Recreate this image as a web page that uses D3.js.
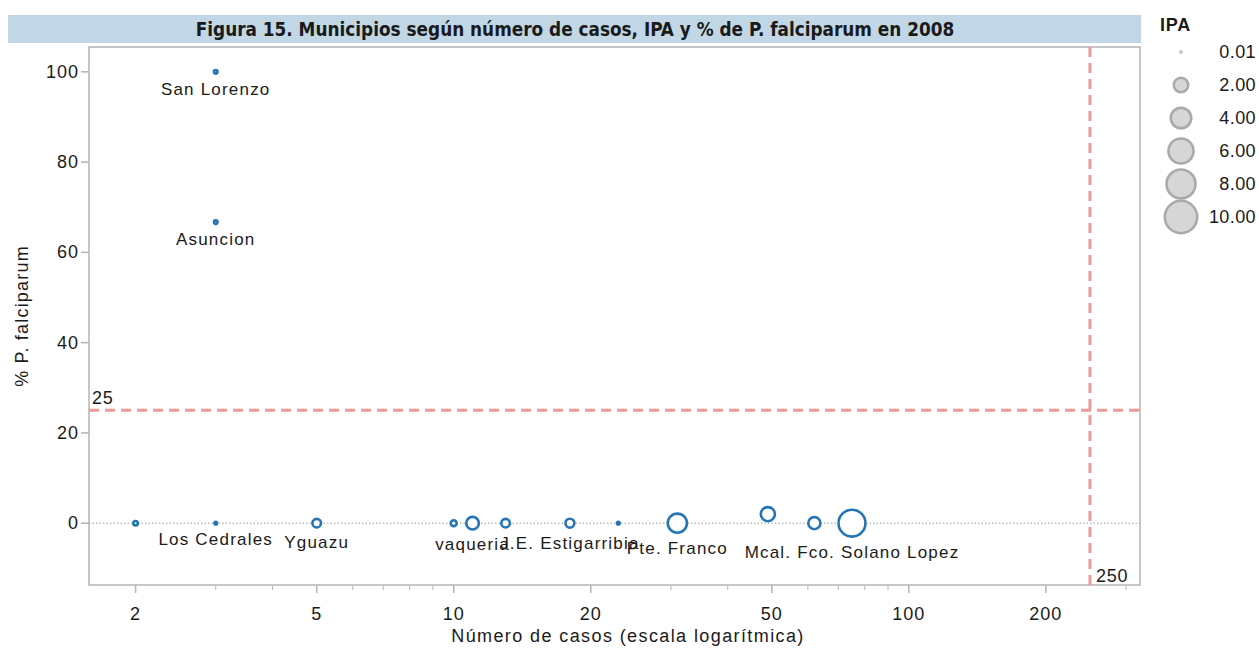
<!DOCTYPE html>
<html>
<head>
<meta charset="utf-8">
<script src="https://cdn.jsdelivr.net/npm/d3@7"></script>
<style>
body { margin: 0; background: #fff; }
svg { display: block; font-family: "Liberation Sans", Arial, sans-serif; }
</style>
</head>
<body>
<div id="chart"></div>
<script>
// municipios 2008: casos, % P. falciparum, IPA
var casos = [3, 3, 2, 3, 5, 10, 11, 13, 18, 23, 31, 49, 62, 75];
var pctFalciparum = [100, 66.7, 0, 0, 0, 0, 0, 0, 0, 0, 0, 2.0, 0, 0];
var ipa = [0.12, 0.12, 0.19, 0.06, 0.7, 0.33, 1.5, 0.7, 0.75, 0.06, 3.5, 1.9, 1.4, 6.9];
var nombres = ["San Lorenzo", "Asuncion", "", "Los Cedrales", "Yguazu", "", "vaqueria", "",
    "J.E. Estigarribia", "", "Pte. Franco", "", "", "Mcal. Fco. Solano Lopez"];

var xTicks = [2, 5, 10, 20, 50, 100, 200];
var xMinor = [3, 4, 6, 7, 8, 9, 30, 40, 60, 70, 80, 90, 300];
var yTicks = [0, 20, 40, 60, 80, 100];
var legendIPA = [0.01, 2, 4, 6, 8, 10];
var refCasos = 250, refPct = 25;

var width = 1259, height = 649;
var pL = 89, pR = 1140, pT = 47, pB = 585;

var svg = d3.select("#chart").append("svg")
    .attr("width", width)
    .attr("height", height)

var x = d3.scaleLog().domain([1.58, 322]).range([pL, pR])
var y = d3.scaleLinear().domain([-13.7, 105.5]).range([pB, pT])
var r = d3.scaleSqrt().domain([0, 10]).range([0, 16.2])

// titulo
svg.append("rect").attr("x", 8).attr("y", 15).attr("width", pR - 8 + 1).attr("height", 28)
    .attr("fill", "#c1d7e5")
svg.append("text").attr("x", 575).attr("y", 36).attr("text-anchor", "middle")
    .style("font-family", "'DejaVu Sans Condensed', 'DejaVu Sans', sans-serif")
    .style("font-weight", "bold").style("font-size", "18.8px").attr("fill", "#1a1a1a")
    .text("Figura 15. Municipios según número de casos, IPA y % de P. falciparum en 2008")

// marco
svg.append("rect").attr("x", pL).attr("y", pT).attr("width", pR - pL).attr("height", pB - pT)
    .attr("fill", "none").attr("stroke", "#b4b4b4").attr("stroke-width", 1.5)

// eje x
var gx = svg.append("g").attr("transform", "translate(0," + pB + ")")
gx.selectAll("line.major").data(xTicks).enter().append("line")
    .attr("x1", d => x(d)).attr("x2", d => x(d)).attr("y1", 0).attr("y2", 8)
    .attr("stroke", "#b4b4b4").attr("stroke-width", 1.5)
gx.selectAll("line.minor").data(xMinor).enter().append("line")
    .attr("x1", d => x(d)).attr("x2", d => x(d)).attr("y1", 0).attr("y2", 5)
    .attr("stroke", "#b4b4b4").attr("stroke-width", 1)
gx.selectAll("text").data(xTicks).enter().append("text")
    .attr("x", d => x(d)).attr("y", 35).attr("text-anchor", "middle")
    .style("font-size", "18px").style("letter-spacing", "1px").attr("fill", "#1a1a1a").text(d => d)
svg.append("text").attr("x", 628).attr("y", 642).attr("text-anchor", "middle")
    .style("font-size", "18px").style("letter-spacing", "1.4px").attr("fill", "#1a1a1a")
    .text("Número de casos (escala logarítmica)")

// eje y
var gy = svg.append("g").attr("transform", "translate(" + pL + ",0)")
gy.selectAll("line").data(yTicks).enter().append("line")
    .attr("x1", -8).attr("x2", 0).attr("y1", d => y(d)).attr("y2", d => y(d))
    .attr("stroke", "#b4b4b4").attr("stroke-width", 1.5)
gy.selectAll("text").data(yTicks).enter().append("text")
    .attr("x", -10).attr("y", d => y(d) + 6).attr("text-anchor", "end")
    .style("font-size", "18px").style("letter-spacing", "1px").attr("fill", "#1a1a1a").text(d => d)
svg.append("text").attr("transform", "translate(28,316) rotate(-90)")
    .attr("text-anchor", "middle").style("font-size", "18px").style("letter-spacing", "1.2px")
    .attr("fill", "#1a1a1a").text("% P. falciparum")

// linea cero punteada
svg.append("line").attr("x1", pL).attr("x2", pR).attr("y1", y(0)).attr("y2", y(0))
    .attr("stroke", "#999").attr("stroke-width", 1).attr("stroke-dasharray", "1.5,2")

// referencias
svg.append("line").attr("x1", pL).attr("x2", pR).attr("y1", y(refPct)).attr("y2", y(refPct))
    .attr("stroke", "#ef9a9a").attr("stroke-width", 3).attr("stroke-dasharray", "10,6")
svg.append("line").attr("x1", x(refCasos)).attr("x2", x(refCasos)).attr("y1", pT).attr("y2", pB)
    .attr("stroke", "#ef9a9a").attr("stroke-width", 3).attr("stroke-dasharray", "10,6")
svg.append("text").attr("x", pL + 3).attr("y", y(refPct) - 6).style("font-size", "18px")
    .style("letter-spacing", "0.8px").attr("fill", "#1a1a1a").text(refPct)
svg.append("text").attr("x", x(refCasos) + 6).attr("y", pB - 3).style("font-size", "18px")
    .style("letter-spacing", "0.8px").attr("fill", "#1a1a1a").text(refCasos)

// burbujas
var data = casos.map(function (c, i) {
    return { casos: c, pct: pctFalciparum[i], ipa: ipa[i], nombre: nombres[i] }
})
svg.append("g").selectAll("circle").data(data).enter().append("circle")
    .attr("cx", d => x(d.casos)).attr("cy", d => y(d.pct)).attr("r", d => r(d.ipa))
    .attr("fill", "white").attr("stroke", "#2475b5").attr("stroke-width", 2.6)

svg.append("g").selectAll("text").data(data.filter(d => d.nombre)).enter().append("text")
    .attr("x", d => x(d.casos)).attr("y", d => y(d.pct) + r(d.ipa) + 21).attr("text-anchor", "middle")
    .style("font-size", "17px").style("letter-spacing", "1.2px").attr("fill", "#1a1a1a").text(d => d.nombre)

// leyenda
svg.append("text").attr("x", 1160).attr("y", 31).style("font-size", "18px").style("font-weight", "bold")
    .style("letter-spacing", "0.8px").attr("fill", "#1a1a1a").text("IPA")
var lg = svg.append("g").selectAll("g").data(legendIPA).enter().append("g")
    .attr("transform", (d, i) => "translate(0," + (52 + i * 33) + ")")
lg.append("circle").attr("cx", 1181).attr("cy", 0).attr("r", d => r(d))
    .attr("fill", "#d6d6d6").attr("stroke", "#aaa").attr("stroke-width", 2.6)
lg.append("text").attr("x", 1256).attr("y", 6).attr("text-anchor", "end")
    .style("font-size", "18px").style("letter-spacing", "0.4px").attr("fill", "#1a1a1a").text(d => d.toFixed(2))
</script>
</body>
</html>
